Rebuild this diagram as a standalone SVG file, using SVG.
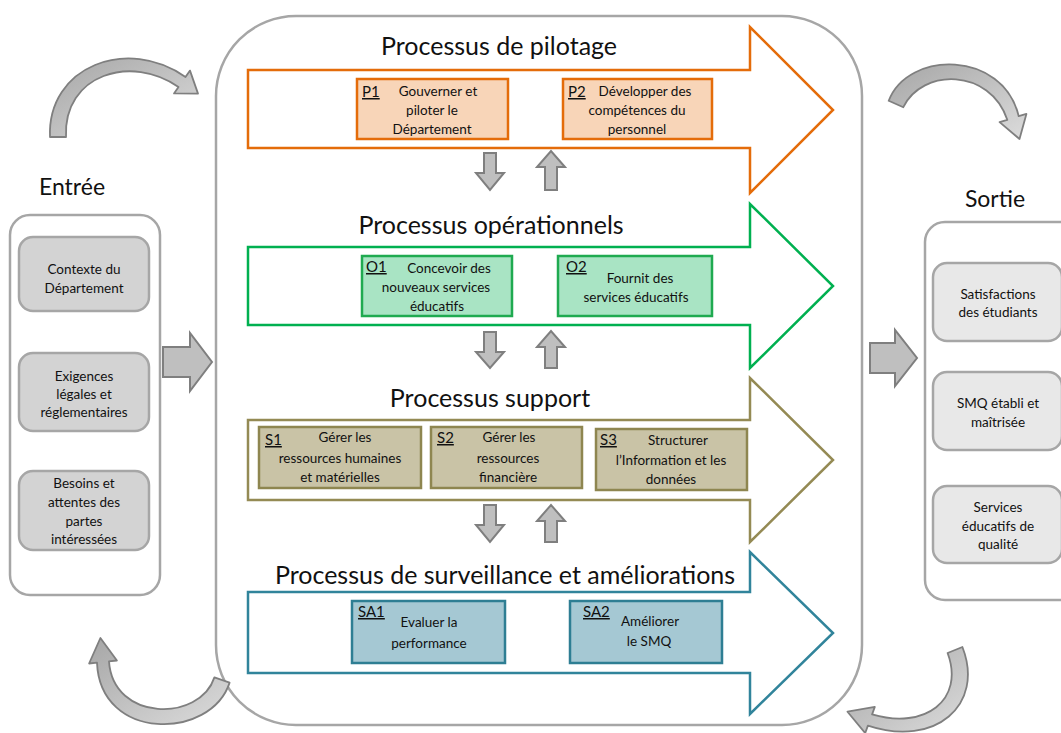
<svg xmlns="http://www.w3.org/2000/svg" width="1061" height="733" viewBox="0 0 1061 733">
<defs>
<style>
text{font-family:Lato,"Liberation Sans",sans-serif;fill:#111;}
.title{font-size:25px;text-anchor:middle;}
.side{font-size:23px;text-anchor:middle;}
.t{font-size:13.5px;text-anchor:middle;}
.lab{font-size:15px;text-decoration:underline;}
.cont{fill:#fff;stroke:#a6a6a6;stroke-width:2.5;}
.inL{fill:#d3d3d3;stroke:#a6a6a6;stroke-width:2.5;}
.inR{fill:#e8e8e8;stroke:#a6a6a6;stroke-width:2.5;}
.blk{fill:#bfbfbf;stroke:#7f7f7f;stroke-width:2;}
.curv{fill:url(#cg);stroke:#7f7f7f;stroke-width:1.8;stroke-linejoin:round;}
.po{fill:#fff;stroke:#e46c0a;stroke-width:2.5;}
.pg{fill:#fff;stroke:#00b050;stroke-width:2.5;}
.ps{fill:#fff;stroke:#948a54;stroke-width:2.5;}
.pt{fill:#fff;stroke:#31849b;stroke-width:2.5;}
.bo{fill:#f8d5b8;stroke:#e46c0a;stroke-width:2.5;}
.bg{fill:#a9e4c4;stroke:#1faa50;stroke-width:2.5;}
.bs{fill:#c9c3a6;stroke:#8e8650;stroke-width:2.5;}
.bt{fill:#a5c8d3;stroke:#2e7e93;stroke-width:2.5;}
</style>
<linearGradient id="cg" x1="0" y1="0" x2="1" y2="1">
<stop offset="0" stop-color="#a6a6a6"/>
<stop offset="1" stop-color="#dcdcdc"/>
</linearGradient>
</defs>
<rect width="1061" height="733" fill="#fff"/>

<g id="central">
<rect class="cont" x="216" y="16" width="646" height="709" rx="80"/>
</g>

<g id="entree">
<text class="side" x="72" y="195">Entrée</text>
<rect class="cont" x="10" y="215" width="150" height="380" rx="20"/>
</g>
<g id="in1"><rect class="inL" x="19" y="237" width="130" height="74" rx="14"/>
<text class="t" x="84" y="274">Contexte du</text><text class="t" x="84" y="293">Département</text></g>
<g id="in2"><rect class="inL" x="19" y="353" width="130" height="78" rx="14"/>
<text class="t" x="84" y="381">Exigences</text><text class="t" x="84" y="399">légales et</text><text class="t" x="84" y="417">réglementaires</text></g>
<g id="in3"><rect class="inL" x="19" y="471" width="130" height="79" rx="14"/>
<text class="t" x="84" y="488">Besoins et</text><text class="t" x="84" y="507">attentes des</text><text class="t" x="84" y="526">partes</text><text class="t" x="84" y="544">intéressées</text></g>

<g id="sortie">
<text class="side" x="995" y="207">Sortie</text>
<rect class="cont" x="925" y="222" width="160" height="378" rx="20"/>
</g>
<g id="out1"><rect class="inR" x="933" y="263" width="129" height="78" rx="14"/>
<text class="t" x="998" y="299">Satisfactions</text><text class="t" x="998" y="317">des étudiants</text></g>
<g id="out2"><rect class="inR" x="933" y="372" width="129" height="78" rx="14"/>
<text class="t" x="998" y="408">SMQ établi et</text><text class="t" x="998" y="427">maîtrisée</text></g>
<g id="out3"><rect class="inR" x="933" y="486" width="129" height="77" rx="14"/>
<text class="t" x="998" y="512">Services</text><text class="t" x="998" y="531">éducatifs de</text><text class="t" x="998" y="549">qualité</text></g>

<g id="pilotage">
<path class="po" d="M248,70 H750 V27 L833,110 L750,193 V148 H248 Z"/>
<text class="title" x="499" y="55">Processus de pilotage</text>
</g>
<g id="P1"><rect class="bo" x="357" y="79" width="151" height="60"/>
<text class="lab" x="362" y="97">P1</text>
<text class="t" x="438" y="96">Gouverner et</text><text class="t" x="432" y="115">piloter le</text><text class="t" x="432" y="134">Département</text></g>
<g id="P2"><rect class="bo" x="563" y="79" width="149" height="60"/>
<text class="lab" x="568" y="97">P2</text>
<text class="t" x="645" y="96">Développer des</text><text class="t" x="637" y="115">compétences  du</text><text class="t" x="637" y="134">personnel</text></g>

<g id="operationnels">
<path class="pg" d="M248,247 H750 V204 L833,286 L750,368 V325 H248 Z"/>
<text class="title" x="491" y="234">Processus opérationnels</text>
</g>
<g id="O1"><rect class="bg" x="362" y="256" width="150" height="60"/>
<text class="lab" x="366" y="272">O1</text>
<text class="t" x="449" y="273">Concevoir des</text><text class="t" x="436" y="292">nouveaux services</text><text class="t" x="437" y="311">éducatifs</text></g>
<g id="O2"><rect class="bg" x="558" y="256" width="154" height="60"/>
<text class="lab" x="566" y="272">O2</text>
<text class="t" x="640" y="283">Fournit des</text><text class="t" x="636" y="302">services éducatifs</text></g>

<g id="support">
<path class="ps" d="M248,420 H750 V378 L833,460 L750,542 V500 H248 Z"/>
<text class="title" x="490" y="407">Processus support</text>
</g>
<g id="S1"><rect class="bs" x="259" y="427" width="162" height="61"/>
<text class="lab" x="265" y="445">S1</text>
<text class="t" x="345" y="442">Gérer les</text><text class="t" x="340" y="463">ressources humaines</text><text class="t" x="340" y="482">et matérielles</text></g>
<g id="S2"><rect class="bs" x="431" y="427" width="151" height="61"/>
<text class="lab" x="437" y="443">S2</text>
<text class="t" x="509" y="442">Gérer les</text><text class="t" x="508" y="463">ressources</text><text class="t" x="508" y="482">financière</text></g>
<g id="S3"><rect class="bs" x="596" y="429" width="151" height="61"/>
<text class="lab" x="600" y="445">S3</text>
<text class="t" x="678" y="445">Structurer</text><text class="t" x="671" y="465">l’Information et les</text><text class="t" x="671" y="484">données</text></g>

<g id="surveillance">
<path class="pt" d="M248,592 H750 V552 L833,633 L750,714 V673 H248 Z"/>
<text class="title" x="505" y="584">Processus de surveillance et améliorations</text>
</g>
<g id="SA1"><rect class="bt" x="352" y="601" width="153" height="62"/>
<text class="lab" x="358" y="617">SA1</text>
<text class="t" x="429" y="627">Evaluer la</text><text class="t" x="429" y="648">performance</text></g>
<g id="SA2"><rect class="bt" x="570" y="601" width="152" height="62"/>
<text class="lab" x="583" y="617">SA2</text>
<text class="t" x="650" y="626">Améliorer</text><text class="t" x="649" y="646">le SMQ</text></g>

<g id="connectors">
<path class="blk" d="M163,347 H190 V333 L212,362 L190,391 V377 H163 Z"/>
<path class="blk" d="M870,343 H895 V330 L917,358 L895,386 V373 H870 Z"/>
<path class="blk" d="M484,153 H496 V173 H504 L490,190 L476,173 H484 Z"/>
<path class="blk" d="M545,190 H557 V167 H565 L551,151 L537,167 H545 Z"/>
<path class="blk" d="M484,332 H496 V352 H504 L490,368 L476,352 H484 Z"/>
<path class="blk" d="M545,368 H557 V347 H565 L551,331 L537,347 H545 Z"/>
<path class="blk" d="M484,505 H496 V525 H504 L490,542 L476,525 H484 Z"/>
<path class="blk" d="M545,542 H557 V521 H565 L551,505 L537,521 H545 Z"/>
<path class="curv" d="M50,137 C47,66 128,36 185.5,77 L190,70.6 L198,93.6 L174,93.4 L178.5,87 C132,54 63,74 66,137 Z"/>
<path class="curv" d="M888.7,100.8 C908,50 1003,50 1018.7,116.2 L1026.4,113.9 L1019.5,139 L999.6,122.1 L1007.3,119.8 C990,68 922,68 903.3,107.2 Z"/>
<path class="curv" d="M229.6,682.6 C211,740 100,742 97,662.6 L89.1,663.5 L100.4,638 L116.9,660.5 L109,661.4 C113,722 200,722 214.4,677.4 Z"/>
<path class="curv" d="M962.4,647 C985,705 935,748 867.9,725.6 L865.2,733.1 L847.5,711.7 L874.8,706.9 L872.1,714.4 C925,730 965,700 947.6,653 Z"/>
</g>
</svg>
